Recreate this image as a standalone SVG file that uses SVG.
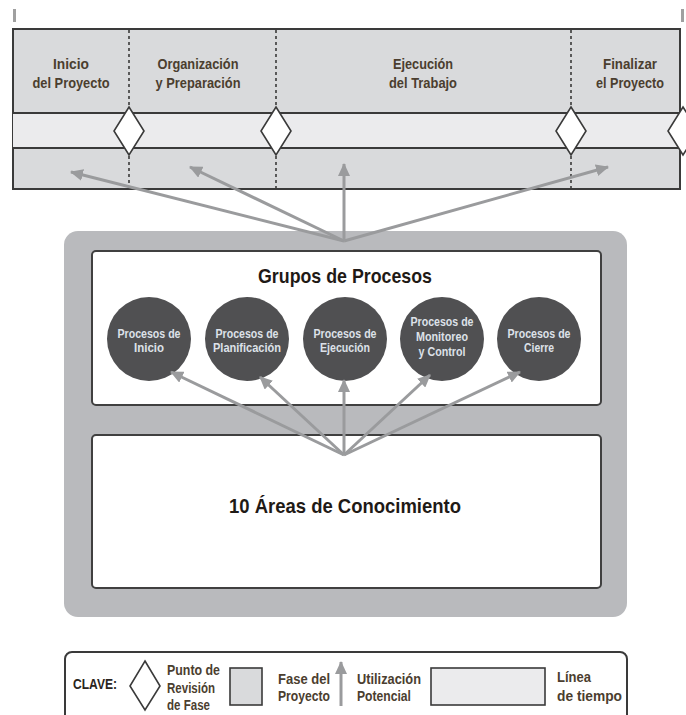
<svg xmlns="http://www.w3.org/2000/svg" width="686" height="715" viewBox="0 0 686 715">
  <style>
    .lbl { font-family: "Liberation Sans", Arial, sans-serif; font-weight: bold; text-anchor: middle; }
    .phase { font-size: 14.5px; fill: #4b3e2f; }
    .circ { font-size: 12px; fill: #dde1e8; }
    .title { font-size: 21px; fill: #1f1a16; }
    .key { font-size: 14.5px; fill: #4b3e2f; text-anchor: start; }
    .conn { stroke: #9a9b9d; stroke-width: 3; fill: none; marker-end: url(#head); }
    .dot { stroke: #3a3a3a; stroke-width: 1.6; stroke-dasharray: 3 3; }
    .edge { stroke: #3a3a3a; stroke-width: 2; }
    .gate { fill: #ffffff; stroke: #3a3a3a; stroke-width: 1.6; }
    .proc { fill: #505052; }
    .panel { fill: #ffffff; stroke: #404040; stroke-width: 2; }
  </style>
  <defs>
    <marker id="head" markerUnits="userSpaceOnUse" markerWidth="14" markerHeight="12" refX="12" refY="6" orient="auto">
      <path d="M0,0 L13,6 L0,12 Z" fill="#9a9b9d"/>
    </marker>
  </defs>

  <!-- timeline ticks -->
  <rect x="13" y="9" width="3" height="13" fill="#a0a0a0"/>
  <rect x="681" y="9" width="3" height="13" fill="#a0a0a0"/>

  <!-- project phases strip -->
  <g id="phases">
    <rect x="13" y="29" width="667" height="160" fill="#d9dadc" stroke="#3a3a3a" stroke-width="2"/>
    <rect x="13" y="113" width="673" height="35" fill="#ebebed"/>
    <line class="edge" x1="13" y1="113" x2="686" y2="113"/>
    <line class="edge" x1="13" y1="148" x2="686" y2="148"/>
    <line class="dot" x1="129" y1="30" x2="129" y2="188"/>
    <line class="dot" x1="276" y1="30" x2="276" y2="188"/>
    <line class="dot" x1="571" y1="30" x2="571" y2="188"/>
    <polygon class="gate" points="129,107 144,131 129,155 114,131"/>
    <polygon class="gate" points="276,107 291,131 276,155 261,131"/>
    <polygon class="gate" points="571,107 586,131 571,155 556,131"/>
    <polygon class="gate" points="683,107 698,131 683,155 668,131"/>
    <text class="lbl phase" x="71" y="69" textLength="36" lengthAdjust="spacingAndGlyphs">Inicio</text>
    <text class="lbl phase" x="71" y="88" textLength="77" lengthAdjust="spacingAndGlyphs">del Proyecto</text>
    <text class="lbl phase" x="198" y="69" textLength="81" lengthAdjust="spacingAndGlyphs">Organización</text>
    <text class="lbl phase" x="198" y="88" textLength="85" lengthAdjust="spacingAndGlyphs">y Preparación</text>
    <text class="lbl phase" x="423" y="69" textLength="60" lengthAdjust="spacingAndGlyphs">Ejecución</text>
    <text class="lbl phase" x="423" y="88" textLength="68" lengthAdjust="spacingAndGlyphs">del Trabajo</text>
    <text class="lbl phase" x="630" y="69" textLength="54" lengthAdjust="spacingAndGlyphs">Finalizar</text>
    <text class="lbl phase" x="630" y="88" textLength="68" lengthAdjust="spacingAndGlyphs">el Proyecto</text>
  </g>

  <!-- grey container -->
  <rect x="64" y="231" width="563" height="386" rx="14" fill="#b9babd"/>

  <g id="process-groups">
    <rect class="panel" x="92" y="251" width="509" height="154" rx="4"/>
    <text class="lbl title" x="345" y="283" textLength="174" lengthAdjust="spacingAndGlyphs">Grupos de Procesos</text>
  </g>

  <g id="initiating">
    <circle class="proc" cx="149" cy="339" r="42"/>
    <text class="lbl circ" x="149" y="338" textLength="63" lengthAdjust="spacingAndGlyphs">Procesos de</text>
    <text class="lbl circ" x="149" y="352" textLength="30" lengthAdjust="spacingAndGlyphs">Inicio</text>
  </g>
  <g id="planning">
    <circle class="proc" cx="247" cy="339" r="42"/>
    <text class="lbl circ" x="247" y="338" textLength="63" lengthAdjust="spacingAndGlyphs">Procesos de</text>
    <text class="lbl circ" x="247" y="352" textLength="68" lengthAdjust="spacingAndGlyphs">Planificación</text>
  </g>
  <g id="executing">
    <circle class="proc" cx="345" cy="339" r="42"/>
    <text class="lbl circ" x="345" y="338" textLength="63" lengthAdjust="spacingAndGlyphs">Procesos de</text>
    <text class="lbl circ" x="345" y="352" textLength="50" lengthAdjust="spacingAndGlyphs">Ejecución</text>
  </g>
  <g id="monitoring">
    <circle class="proc" cx="442" cy="339" r="42"/>
    <text class="lbl circ" x="442" y="326" textLength="63" lengthAdjust="spacingAndGlyphs">Procesos de</text>
    <text class="lbl circ" x="442" y="341" textLength="52" lengthAdjust="spacingAndGlyphs">Monitoreo</text>
    <text class="lbl circ" x="442" y="356" textLength="47" lengthAdjust="spacingAndGlyphs">y Control</text>
  </g>
  <g id="closing">
    <circle class="proc" cx="539" cy="339" r="42"/>
    <text class="lbl circ" x="539" y="338" textLength="63" lengthAdjust="spacingAndGlyphs">Procesos de</text>
    <text class="lbl circ" x="539" y="352" textLength="30" lengthAdjust="spacingAndGlyphs">Cierre</text>
  </g>

  <g id="knowledge-areas">
    <rect class="panel" x="92" y="435" width="509" height="153" rx="4"/>
    <text class="lbl title" x="345" y="513" textLength="232" lengthAdjust="spacingAndGlyphs">10 Áreas de Conocimiento</text>
  </g>

  <!-- potential-use connectors -->
  <g id="connectors">
    <line class="conn" x1="344" y1="241" x2="71" y2="172"/>
    <line class="conn" x1="344" y1="241" x2="190" y2="167"/>
    <line class="conn" x1="344" y1="241" x2="344" y2="164"/>
    <line class="conn" x1="344" y1="241" x2="608" y2="167"/>
    <line class="conn" x1="344" y1="455" x2="171" y2="372"/>
    <line class="conn" x1="344" y1="455" x2="260" y2="377"/>
    <line class="conn" x1="344" y1="455" x2="344" y2="380"/>
    <line class="conn" x1="344" y1="455" x2="430" y2="375"/>
    <line class="conn" x1="344" y1="455" x2="520" y2="372"/>
  </g>

  <!-- key -->
  <g id="legend">
    <rect x="65" y="652" width="562" height="100" rx="7" fill="#ffffff" stroke="#3a3a3a" stroke-width="2"/>
    <text class="lbl key" x="73" y="689" textLength="44" lengthAdjust="spacingAndGlyphs" style="fill:#2a2420">CLAVE:</text>
    <polygon class="gate" points="145,661 160,686 145,710 130,686"/>
    <text class="lbl key" x="167" y="675" textLength="53" lengthAdjust="spacingAndGlyphs">Punto de</text>
    <text class="lbl key" x="167" y="693" textLength="48" lengthAdjust="spacingAndGlyphs">Revisión</text>
    <text class="lbl key" x="167" y="710" textLength="43" lengthAdjust="spacingAndGlyphs">de Fase</text>
    <rect x="230" y="668" width="32" height="37" fill="#d9dadc" stroke="#3a3a3a" stroke-width="1.6"/>
    <text class="lbl key" x="278" y="684" textLength="52" lengthAdjust="spacingAndGlyphs">Fase del</text>
    <text class="lbl key" x="278" y="701" textLength="52" lengthAdjust="spacingAndGlyphs">Proyecto</text>
    <line class="conn" x1="341" y1="706" x2="341" y2="662"/>
    <text class="lbl key" x="357" y="684" textLength="64" lengthAdjust="spacingAndGlyphs">Utilización</text>
    <text class="lbl key" x="357" y="701" textLength="54" lengthAdjust="spacingAndGlyphs">Potencial</text>
    <rect x="431" y="668" width="114" height="37" fill="#ebebed" stroke="#3a3a3a" stroke-width="1.6"/>
    <text class="lbl key" x="557" y="682" textLength="34" lengthAdjust="spacingAndGlyphs">Línea</text>
    <text class="lbl key" x="557" y="701" textLength="65" lengthAdjust="spacingAndGlyphs">de tiempo</text>
  </g>
</svg>
